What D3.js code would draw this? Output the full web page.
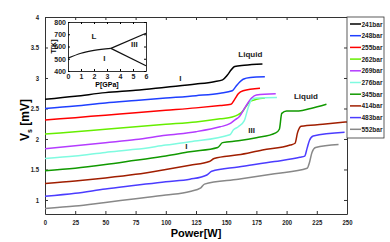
<!DOCTYPE html>
<html>
<head>
<meta charset="utf-8">
<script src="https://cdn.jsdelivr.net/npm/d3@7"></script>
<style>
  body { margin: 0; background: #fff; }
  svg text { font-family: "Liberation Sans Narrow", "Liberation Sans", Arial, sans-serif; }
  .tick text { font-size: 7px; font-weight: bold; fill: #222; }
</style>
</head>
<body>
<div id="chart"></div>
<script>
// pressures (legend) and colours
var labels = ["241bar", "248bar", "255bar", "262bar", "269bar", "276bar", "345bar", "414bar", "483bar", "552bar"];
var colors = ["#000000", "#1f3fff", "#ff0000", "#66ee00", "#b43cff", "#7ffbe0", "#119900", "#a01e00", "#4b3cff", "#888888"];

// [power W, Vs mV]
var s241 = [[0,2.65],[25,2.70],[50,2.76],[75,2.80],[100,2.85],[125,2.90],[140,2.94],[147,2.97],[151,3.05],[154,3.13],[157,3.19],[165,3.21],[180,3.23]];
var s248 = [[0,2.50],[25,2.54],[50,2.59],[75,2.63],[100,2.67],[125,2.71],[145,2.75],[155,2.79],[158,2.86],[161,2.93],[164,2.98],[170,3.01],[182,3.02]];
var s255 = [[0,2.31],[25,2.35],[50,2.39],[75,2.43],[100,2.47],[125,2.51],[145,2.55],[154,2.57],[157,2.65],[160,2.74],[164,2.79],[178,2.83]];
var s262 = [[0,2.08],[25,2.12],[50,2.16],[75,2.20],[100,2.24],[125,2.28],[145,2.33],[155,2.36],[160,2.40],[163,2.44],[167,2.55],[170,2.62],[175,2.65],[182,2.67]];
var s269 = [[0,1.84],[25,1.89],[50,1.94],[75,1.99],[100,2.06],[125,2.12],[145,2.20],[153,2.25],[157,2.31],[161,2.37],[166,2.53],[171,2.67],[175,2.72],[191,2.74]];
var s276 = [[0,1.68],[25,1.72],[50,1.78],[75,1.83],[100,1.90],[120,1.955],[153,2.07],[156,2.15],[160,2.20],[165,2.30],[168,2.50],[171,2.64],[175,2.67],[192,2.68]];
var s345 = [[0,1.48],[25,1.52],[50,1.58],[75,1.65],[100,1.72],[120,1.79],[143,1.86],[147,1.94],[160,1.97],[175,2.02],[191,2.10],[194,2.16],[196,2.42],[200,2.46],[210,2.46],[220,2.50],[233,2.57]];
var s414 = [[0,1.27],[25,1.31],[50,1.36],[75,1.42],[100,1.50],[120,1.57],[136,1.63],[140,1.68],[160,1.74],[180,1.82],[203,1.90],[207,1.93],[209,2.10],[212,2.21],[230,2.24],[250,2.28]];
var s483 = [[0,1.06],[25,1.11],[50,1.18],[75,1.24],[100,1.30],[120,1.34],[134,1.41],[138,1.47],[160,1.54],[190,1.63],[211,1.70],[215,1.72],[217,1.85],[219,1.98],[222,2.05],[248,2.11]];
var s552 = [[0,0.86],[25,0.90],[50,0.96],[75,1.02],[100,1.08],[120,1.14],[129,1.20],[132,1.26],[160,1.34],[190,1.43],[217,1.52],[219,1.62],[221,1.78],[224,1.86],[243,1.91]];
var allSeries = [s241, s248, s255, s262, s269, s276, s345, s414, s483, s552];

var xTicks = [0, 25, 50, 75, 100, 125, 150, 175, 200, 225, 250];
var yTicks = [1, 1.5, 2, 2.5, 3, 3.5, 4];

// inset phase diagram: [P GPa, T K]
var lineLI = [[0,505],[1,545],[2,568],[3.3,585]];
var lineLIII = [[3.3,585],[6,708]];
var lineIIII = [[3.3,585],[6,443]];
var insetXTicks = [0, 1, 2, 3, 4, 5, 6];
var insetYTicks = [400, 500, 600, 700, 800];

var W = 390, H = 242;
var margin = {top: 17, right: 43, bottom: 28, left: 45},
    width = W - margin.left - margin.right,
    height = H - margin.top - margin.bottom;

var svg = d3.select("#chart").append("svg")
    .attr("width", W)
    .attr("height", H);

var plot = svg.append("g")
    .attr("transform", "translate(" + margin.left + "," + margin.top + ")");

var x = d3.scaleLinear().domain([0, 250]).range([0, width]);
var y = d3.scaleLinear().domain([0.77, 4]).range([height, 0]);

// axes with inward ticks on all four sides
plot.append("g")
    .attr("transform", "translate(0," + height + ")")
    .call(d3.axisBottom(x).tickValues(xTicks).tickSizeInner(-3).tickSizeOuter(0).tickPadding(6));
plot.append("g")
    .call(d3.axisTop(x).tickValues(xTicks).tickSizeInner(-3).tickSizeOuter(0).tickFormat(""));
plot.append("g")
    .call(d3.axisLeft(y).tickValues(yTicks).tickSizeInner(-3).tickSizeOuter(0).tickPadding(6).tickFormat(d3.format("")));
plot.append("g")
    .attr("transform", "translate(" + width + ",0)")
    .call(d3.axisRight(y).tickValues(yTicks).tickSizeInner(-3).tickSizeOuter(0).tickFormat(""));
plot.selectAll(".domain").attr("stroke", "#333");
plot.selectAll(".tick line").attr("stroke", "#333");
plot.selectAll(".tick text").attr("transform", "scale(0.85,1)")
    .each(function() { var t = d3.select(this); t.attr("x", (+t.attr("x") || 0) / 0.85); });

var valueline = d3.line()
    .x(function(d) { return x(d[0]); })
    .y(function(d) { return y(d[1]); })
    .curve(d3.curveMonotoneX);

allSeries.forEach(function(s, i) {
  plot.append("path")
      .datum(s)
      .attr("fill", "none")
      .attr("stroke", colors[i])
      .attr("stroke-width", 1.5)
      .attr("d", valueline);
});

// annotations
function note(px, py, txt, size) {
  plot.append("text")
      .attr("x", x(px)).attr("y", y(py))
      .attr("text-anchor", "middle")
      .attr("font-size", size || 8)
      .attr("font-weight", "bold")
      .attr("fill", "#222")
      .text(txt);
}
note(170, 3.35, "Liquid");
note(216, 2.65, "Liquid");
note(112, 2.95, "I", 8);
note(117, 1.83, "I", 8);
note(171, 2.09, "III", 8);

// axis labels
svg.append("text")
    .attr("x", 196).attr("y", 237)
    .attr("text-anchor", "middle")
    .attr("font-size", 11)
    .attr("font-weight", "bold")
    .text("Power[W]");

var yl = svg.append("text")
    .attr("transform", "translate(29,120) rotate(-90)")
    .attr("text-anchor", "middle")
    .attr("font-size", 12)
    .attr("font-weight", "bold");
yl.append("tspan").text("V");
yl.append("tspan").attr("font-size", 7).attr("dy", 3).text("s");
yl.append("tspan").attr("dy", -3).text(" [mV]");

// legend
var legend = svg.append("g").attr("transform", "translate(347,17)");
legend.append("rect")
    .attr("width", 37).attr("height", 121)
    .attr("fill", "#fff").attr("stroke", "#333").attr("stroke-width", 0.8);
labels.forEach(function(l, i) {
  var ly = 7 + i * 11.7;
  legend.append("line")
      .attr("x1", 3).attr("x2", 14).attr("y1", ly).attr("y2", ly)
      .attr("stroke", colors[i]).attr("stroke-width", 1.5);
  legend.append("text")
      .attr("x", 14.5).attr("y", ly + 2.5)
      .attr("font-size", 7).attr("font-weight", "bold").attr("fill", "#222")
      .attr("textLength", 21).attr("lengthAdjust", "spacingAndGlyphs")
      .text(l);
});

// inset
var ix0 = 68, iy0 = 22, iw = 78, ih = 49;
var inset = svg.append("g").attr("transform", "translate(" + ix0 + "," + iy0 + ")");
var ix = d3.scaleLinear().domain([0, 6]).range([0, iw]);
var iy = d3.scaleLinear().domain([400, 800]).range([ih, 0]);
inset.append("rect").attr("width", iw).attr("height", ih).attr("fill", "#fff");
inset.append("g")
    .attr("transform", "translate(0," + ih + ")")
    .call(d3.axisBottom(ix).tickValues(insetXTicks).tickSizeInner(-2).tickSizeOuter(0).tickPadding(3).tickFormat(d3.format("d")));
inset.append("g")
    .call(d3.axisTop(ix).tickValues(insetXTicks).tickSizeInner(-2).tickSizeOuter(0).tickFormat(""));
inset.append("g")
    .call(d3.axisLeft(iy).tickValues(insetYTicks).tickSizeInner(-2).tickSizeOuter(0).tickPadding(2).tickFormat(d3.format("d")));
inset.append("g")
    .attr("transform", "translate(" + iw + ",0)")
    .call(d3.axisRight(iy).tickValues(insetYTicks).tickSizeInner(-2).tickSizeOuter(0).tickFormat(""));
inset.selectAll(".tick text").attr("font-size", 6);
inset.selectAll(".domain").attr("stroke", "#333");

var iline = d3.line()
    .x(function(d) { return ix(d[0]); })
    .y(function(d) { return iy(d[1]); })
    .curve(d3.curveMonotoneX);
[lineLI, lineLIII, lineIIII].forEach(function(s) {
  inset.append("path").datum(s)
      .attr("fill", "none").attr("stroke", "#111").attr("stroke-width", 1.2)
      .attr("d", iline);
});
function inote(p, t, txt) {
  inset.append("text")
      .attr("x", ix(p)).attr("y", iy(t))
      .attr("text-anchor", "middle")
      .attr("font-size", 8).attr("font-weight", "bold").attr("fill", "#222")
      .text(txt);
}
inote(2.0, 660, "L");
inote(2.8, 480, "I");
inote(5.1, 595, "III");
inset.append("text")
    .attr("x", ix(3)).attr("y", ih + 16)
    .attr("text-anchor", "middle")
    .attr("font-size", 7).attr("font-weight", "bold")
    .text("P[GPa]");
inset.append("text")
    .attr("transform", "translate(-12," + (ih / 2) + ") rotate(-90)")
    .attr("text-anchor", "middle")
    .attr("font-size", 7).attr("font-weight", "bold")
    .text("T[K]");
</script>
</body>
</html>
